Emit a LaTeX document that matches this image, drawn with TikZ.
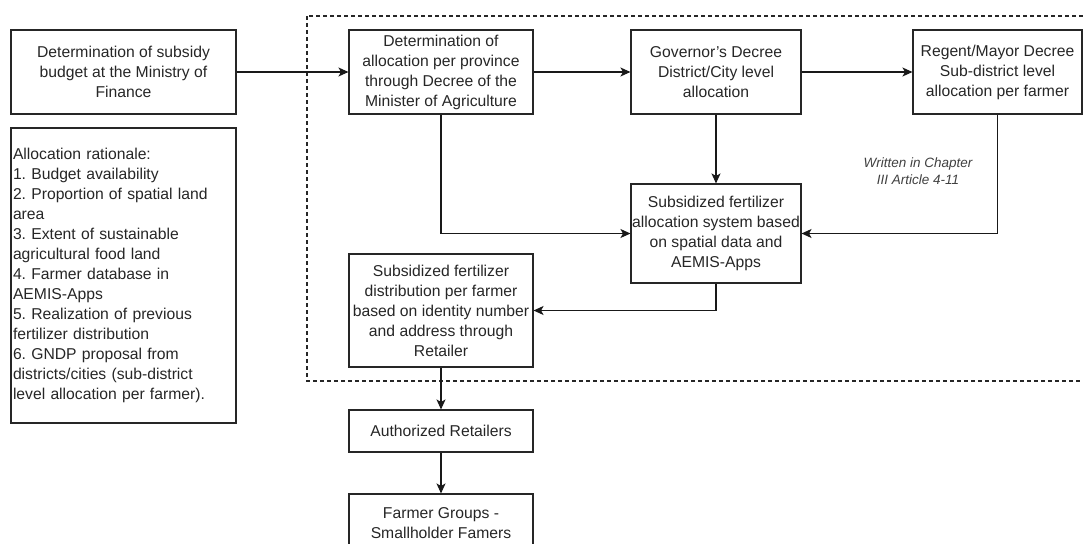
\documentclass[tikz,border=0pt]{standalone}
\usepackage{fontspec}
\setmainfont{Liberation Sans}
\usetikzlibrary{arrows.meta}
\frenchspacing
\begin{document}
\begin{tikzpicture}[x=1pt,y=-1pt,
	box/.style={draw=black!85,line width=1.1pt,align=center,inner sep=0pt,text=black!85,font=\fontsize{15.7}{20}\selectfont},
	link/.style={draw=black!90,line width=1.1pt,-{Stealth[length=10pt,width=9pt,inset=2.5pt]}},
	note/.style={align=center,text=black!75,font=\fontsize{13.5}{16.5}\selectfont\itshape}]
	\useasboundingbox (0,0) rectangle (1083,543);
	\draw[line width=1.1pt][black!85][dash pattern=on 4pt off 3pt](307,16) rectangle (1100,381);
	
	\node[box,minimum width=225pt,minimum height=84pt] (budget) at (123.5,72) {Determination of subsidy\\budget at the Ministry of\\Finance};
	\node[box,align=left,text width=221pt,inner xsep=2pt,minimum height=295pt] (rationale) at (123.5,275.5) {Allocation rationale:\\1. Budget availability\\2. Proportion of spatial land\\area\\3. Extent of sustainable\\agricultural food land\\4. Farmer database in\\AEMIS-Apps\\5. Realization of previous\\fertilizer distribution\\6. GNDP proposal from\\districts/cities (sub-district\\level allocation per farmer).};
	
	\node[box,minimum width=184pt,minimum height=84pt] (province) at (441,72) {Determination of\\allocation per province\\through Decree of the\\Minister of Agriculture};
	\node[box,minimum width=170pt,minimum height=84pt] (governor) at (716,72) {Governor\symbol{39}s Decree\\District/City level\\allocation};
	\node[box,minimum width=169pt,minimum height=84pt] (regent) at (997.5,72) {Regent/Mayor Decree\\Sub-district level\\allocation per farmer};
	\node[box,minimum width=170pt,minimum height=99pt] (spatial) at (716,233.5) {Subsidized fertilizer\\allocation system based\\on spatial data and\\AEMIS-Apps};
	\node[box,minimum width=184pt,minimum height=113pt] (distrib) at (441,310.5) {Subsidized fertilizer\\distribution per farmer\\based on identity number\\and address through\\Retailer};
	\node[box,minimum width=184pt,minimum height=42pt] (retail) at (441,431) {Authorized Retailers};
	\node[box,minimum width=184pt,minimum height=58pt] (groups) at (441,523) {Farmer Groups -\\Smallholder Famers};
	
	\node[note] (chapter) at (918,171) {Written in Chapter\\III Article 4-11};
	
	\draw[link](budget.east)--(province.west);
	\draw[link](province.east)--(governor.west);
	\draw[link](governor.east)--(regent.west);
	\draw[link](governor.south)--(spatial.north);
	\draw[link](province.south)|-(spatial.west);
	\draw[link](regent.south)|-(spatial.east);
	\draw[link](spatial.south)|-(distrib.east);
	\draw[link](distrib.south)--(retail.north);
	\draw[link](retail.south)--(groups.north);
\end{tikzpicture}
\end{document}
